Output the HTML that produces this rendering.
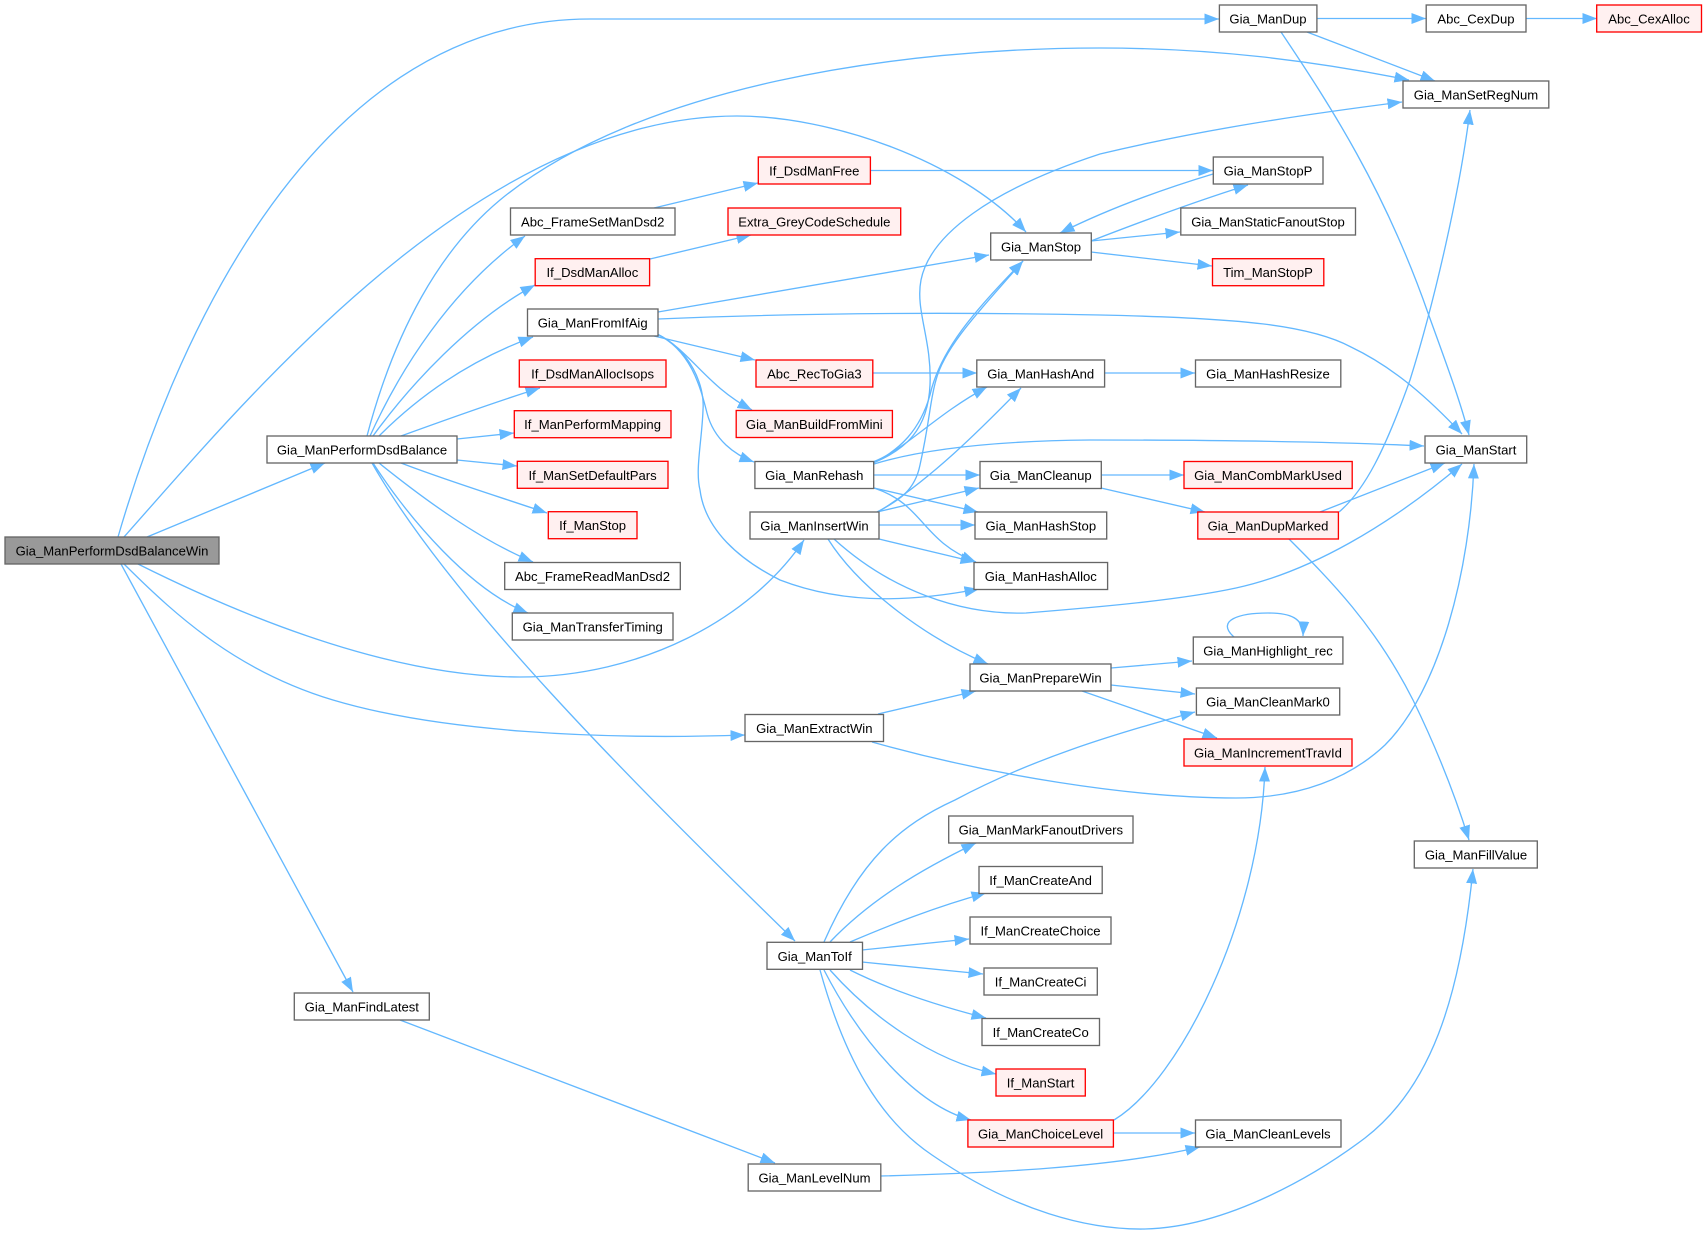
<!DOCTYPE html>
<html><head><meta charset="utf-8"><title>Gia_ManPerformDsdBalanceWin</title>
<style>
html,body{margin:0;padding:0;background:#fff;width:1706px;height:1235px;overflow:hidden}
svg{display:block}
.e path{fill:none;stroke:#63b8ff;stroke-width:1.33;marker-end:url(#a)}
.n rect{fill:#fff;stroke:#666;stroke-width:1.33}
.r rect{fill:#fff0f0;stroke:#f00;stroke-width:1.33}
.g rect{fill:#999;stroke:#666;stroke-width:1.33}
text{font-family:"Liberation Sans",Arial,sans-serif;font-size:13.1px;text-anchor:middle;fill:#000;transform:translateY(.5px)}
</style></head><body>
<svg width="1706" height="1235" viewBox="0 0 1706 1235" xmlns="http://www.w3.org/2000/svg">
<defs><marker id="a" markerUnits="userSpaceOnUse" markerWidth="16" markerHeight="13" refX="14.5" refY="5.5" orient="auto"><path d="M0,0 L14.5,5.5 L0,11 Z" fill="#63b8ff" stroke="none"/></marker></defs>
<g class="e">
<path d="M118,537 C165,375 300,19 590,19 L1219,19"/>
<path d="M124,537 C250,395 480,116 737,116 C830,116 960,160 1026,232"/>
<path d="M147,537 L325,463"/>
<path d="M138,564 C260,625 400,677 520,677 C640,677 750,620 804,540"/>
<path d="M124,564 C180,620 240,672 333,700 C440,732 600,740 745,735"/>
<path d="M121,564 L353,992"/>
<path d="M367,436 C395,330 440,250 500,200 C640,85 900,48 1100,48 C1210,48 1310,60 1409,80"/>
<path d="M370,436 C400,370 450,290 525,236"/>
<path d="M373,436 C410,385 470,320 535,285"/>
<path d="M379,436 C420,395 470,360 533,337"/>
<path d="M401,436 C445,420 495,402 540,388"/>
<path d="M457,439 L514,433"/>
<path d="M457,460 L517,466"/>
<path d="M401,463 C445,480 500,497 547,513"/>
<path d="M379,463 C425,500 480,540 533,562"/>
<path d="M373,463 C410,520 470,590 528,613"/>
<path d="M372,463 C450,600 630,780 795,941"/>
<path d="M654,208 L758,183"/>
<path d="M650,259 L751,235"/>
<path d="M870,170.500 L1213,170.500"/>
<path d="M658,312 L989,255"/>
<path d="M658,319 C800,313 950,312 1100,315 C1240,318 1310,325 1351,347 C1395,368 1430,400 1462,434"/>
<path d="M654,336 L755,360"/>
<path d="M657,334 C690,350 705,385 752,410"/>
<path d="M657,334 C690,350 700,385 707,413 C714,440 735,455 754,462"/>
<path d="M657,334 C690,350 705,385 703,410 C702,440 695,470 700,490 C705,530 740,560 780,580 C850,607 920,600 979,589"/>
<path d="M873,373 L977,373"/>
<path d="M1105,373 L1195,373"/>
<path d="M1091,241 C1140,222 1200,200 1248,185"/>
<path d="M1091,241 L1180,232"/>
<path d="M1091,252 L1212,266"/>
<path d="M1213,174 C1160,190 1110,208 1060,233"/>
<path d="M873,463 C905,450 928,430 930,385 C932,340 915,310 921,280 C930,235 990,190 1100,154 C1200,130 1300,115 1402,102"/>
<path d="M873,463 C900,450 920,430 930,395 C940,350 975,310 1023,261"/>
<path d="M877,512 C900,500 915,490 920,465 C930,420 930,400 936,380 C945,345 985,305 1023,261"/>
<path d="M873,462 C905,450 935,415 987,387"/>
<path d="M878,512 C930,480 980,430 1021,388"/>
<path d="M874,464 C920,450 990,441 1090,440 C1200,440 1320,441 1424,446"/>
<path d="M874,475 L980,475"/>
<path d="M874,488 L978,512"/>
<path d="M874,488 C925,505 920,540 976,562"/>
<path d="M877,512 L979,488"/>
<path d="M879,525 L975,525"/>
<path d="M879,539 L975,562"/>
<path d="M834,539 C890,590 960,615 1026,613 C1100,607 1180,600 1236,588 C1310,572 1390,525 1462,464"/>
<path d="M828,539 C860,590 930,640 988,664"/>
<path d="M878,714 L976,691"/>
<path d="M872,742 C990,775 1130,798 1236,798 C1300,798 1350,778 1385,745 C1440,690 1470,570 1474,464"/>
<path d="M1111,668 L1192,661"/>
<path d="M1111,685 L1195,694"/>
<path d="M1082,691 L1217,738"/>
<path d="M1234,637 C1215,620 1240,613 1268,613 C1290,613 1304,618 1303,636"/>
<path d="M824,942 C860,860 900,825 955,800 C1030,760 1110,735 1195,712"/>
<path d="M830,942 C870,900 920,870 976,843"/>
<path d="M850,942 C890,925 935,907 986,893"/>
<path d="M862,950 L969,939"/>
<path d="M862,962 L983,974"/>
<path d="M850,970 C890,990 935,1005 986,1018"/>
<path d="M830,970 C870,1015 930,1060 996,1074"/>
<path d="M824,970 C860,1040 915,1105 971,1120"/>
<path d="M820,970 C845,1060 880,1120 932,1155 C1015,1212 1090,1230 1145,1229 C1230,1227 1320,1172 1365,1138 C1430,1088 1460,1000 1473,869"/>
<path d="M1113,1133 L1195,1133"/>
<path d="M1114,1120 C1180,1080 1260,920 1265,767"/>
<path d="M881,1176 C990,1173 1110,1168 1200,1147"/>
<path d="M400,1020 L775,1163"/>
<path d="M1101,475 L1184,475"/>
<path d="M1101,488 L1205,512"/>
<path d="M1320,512 L1445,463"/>
<path d="M1339,512 C1365,490 1385,450 1410,380 C1435,300 1460,190 1470,110"/>
<path d="M1289,539 C1330,580 1375,625 1413,700 C1435,745 1455,795 1469,840"/>
<path d="M1317,18.500 L1426,18.500"/>
<path d="M1526,18.500 L1597,18.500"/>
<path d="M1307,32 L1435,81"/>
<path d="M1281,32 C1330,105 1385,190 1428,313 C1445,360 1460,400 1469,435"/>
</g>
<g class="g"><rect x="5" y="537" width="214" height="27"/><text x="112" y="555">Gia_ManPerformDsdBalanceWin</text></g>
<g class="n">
<rect x="267" y="436" width="190" height="27"/><text x="362" y="454">Gia_ManPerformDsdBalance</text>
<rect x="510.500" y="208" width="164.500" height="27"/><text x="592.700" y="226">Abc_FrameSetManDsd2</text>
<rect x="527.500" y="309" width="130.500" height="27"/><text x="592.700" y="327">Gia_ManFromIfAig</text>
<rect x="504.700" y="562.500" width="175.600" height="27"/><text x="592.500" y="580.500">Abc_FrameReadManDsd2</text>
<rect x="512.300" y="613" width="160.700" height="27"/><text x="592.700" y="631">Gia_ManTransferTiming</text>
<rect x="990.700" y="233" width="100.600" height="27"/><text x="1041" y="251">Gia_ManStop</text>
<rect x="976.800" y="360" width="127.800" height="27"/><text x="1040.700" y="378">Gia_ManHashAnd</text>
<rect x="1219.400" y="5" width="97.500" height="27"/><text x="1268" y="23">Gia_ManDup</text>
<rect x="1426.200" y="5" width="99.800" height="27"/><text x="1476" y="23">Abc_CexDup</text>
<rect x="1403" y="81" width="145.800" height="27"/><text x="1476" y="99">Gia_ManSetRegNum</text>
<rect x="1213.300" y="157" width="109.700" height="27"/><text x="1268" y="175">Gia_ManStopP</text>
<rect x="1180.800" y="208" width="174.700" height="27"/><text x="1268" y="226">Gia_ManStaticFanoutStop</text>
<rect x="1195.500" y="360" width="145.300" height="27"/><text x="1268" y="378">Gia_ManHashResize</text>
<rect x="1425" y="436" width="101.700" height="27"/><text x="1476" y="454">Gia_ManStart</text>
<rect x="1414.300" y="841" width="123" height="27"/><text x="1476" y="859">Gia_ManFillValue</text>
<rect x="754.900" y="461.500" width="118.800" height="27"/><text x="814.300" y="479.500">Gia_ManRehash</text>
<rect x="750" y="512" width="129" height="27"/><text x="814.500" y="530">Gia_ManInsertWin</text>
<rect x="980" y="461.500" width="121.300" height="27"/><text x="1040.700" y="479.500">Gia_ManCleanup</text>
<rect x="975" y="512" width="131.700" height="27"/><text x="1040.800" y="530">Gia_ManHashStop</text>
<rect x="974" y="562.500" width="133.600" height="27"/><text x="1040.800" y="580.500">Gia_ManHashAlloc</text>
<rect x="1193.300" y="637" width="149.600" height="27"/><text x="1268" y="655">Gia_ManHighlight_rec</text>
<rect x="970" y="664" width="141" height="27"/><text x="1040.500" y="682">Gia_ManPrepareWin</text>
<rect x="1196.400" y="688" width="143.300" height="27"/><text x="1268" y="706">Gia_ManCleanMark0</text>
<rect x="745" y="714.500" width="138.500" height="27"/><text x="814.300" y="732.500">Gia_ManExtractWin</text>
<rect x="948.700" y="816" width="184.300" height="27"/><text x="1040.800" y="834">Gia_ManMarkFanoutDrivers</text>
<rect x="979" y="866.500" width="123.200" height="27"/><text x="1040.600" y="884.500">If_ManCreateAnd</text>
<rect x="970" y="917" width="141" height="27"/><text x="1040.500" y="935">If_ManCreateChoice</text>
<rect x="984" y="968" width="113.300" height="27"/><text x="1040.600" y="986">If_ManCreateCi</text>
<rect x="982" y="1018.500" width="117.500" height="27"/><text x="1040.700" y="1036.500">If_ManCreateCo</text>
<rect x="1195.500" y="1120" width="145.500" height="27"/><text x="1268" y="1138">Gia_ManCleanLevels</text>
<rect x="767" y="942.300" width="95.500" height="27"/><text x="814.700" y="960.300">Gia_ManToIf</text>
<rect x="748.200" y="1164" width="132.600" height="27"/><text x="814.500" y="1182">Gia_ManLevelNum</text>
<rect x="294.300" y="993" width="135" height="27"/><text x="361.800" y="1011">Gia_ManFindLatest</text>
</g>
<g class="r">
<rect x="758.300" y="157" width="112.100" height="27"/><text x="814.300" y="175">If_DsdManFree</text>
<rect x="728" y="208" width="172.700" height="27"/><text x="814.300" y="226">Extra_GreyCodeSchedule</text>
<rect x="535.200" y="258.700" width="114.400" height="27"/><text x="592.400" y="276.700">If_DsdManAlloc</text>
<rect x="519.300" y="360" width="146.700" height="27"/><text x="592.600" y="378">If_DsdManAllocIsops</text>
<rect x="756" y="360" width="116.800" height="27"/><text x="814.400" y="378">Abc_RecToGia3</text>
<rect x="514.300" y="410.700" width="156.700" height="27"/><text x="592.600" y="428.700">If_ManPerformMapping</text>
<rect x="517.300" y="461.300" width="150.700" height="27"/><text x="592.600" y="479.300">If_ManSetDefaultPars</text>
<rect x="548.300" y="511.700" width="88.700" height="27"/><text x="592.600" y="529.700">If_ManStop</text>
<rect x="736.200" y="410.500" width="156.200" height="27"/><text x="814.300" y="428.500">Gia_ManBuildFromMini</text>
<rect x="1596.700" y="5" width="104.800" height="27"/><text x="1649" y="23">Abc_CexAlloc</text>
<rect x="1212.500" y="258.700" width="111.300" height="27"/><text x="1268" y="276.700">Tim_ManStopP</text>
<rect x="1184" y="461.500" width="168.200" height="27"/><text x="1268" y="479.500">Gia_ManCombMarkUsed</text>
<rect x="1197.800" y="512" width="140.600" height="27"/><text x="1268" y="530">Gia_ManDupMarked</text>
<rect x="1184" y="739" width="168" height="27"/><text x="1268" y="757">Gia_ManIncrementTravId</text>
<rect x="996" y="1069" width="89.300" height="27"/><text x="1040.600" y="1087">If_ManStart</text>
<rect x="967.900" y="1120" width="145.500" height="27"/><text x="1040.600" y="1138">Gia_ManChoiceLevel</text>
</g>
</svg>
</body></html>
